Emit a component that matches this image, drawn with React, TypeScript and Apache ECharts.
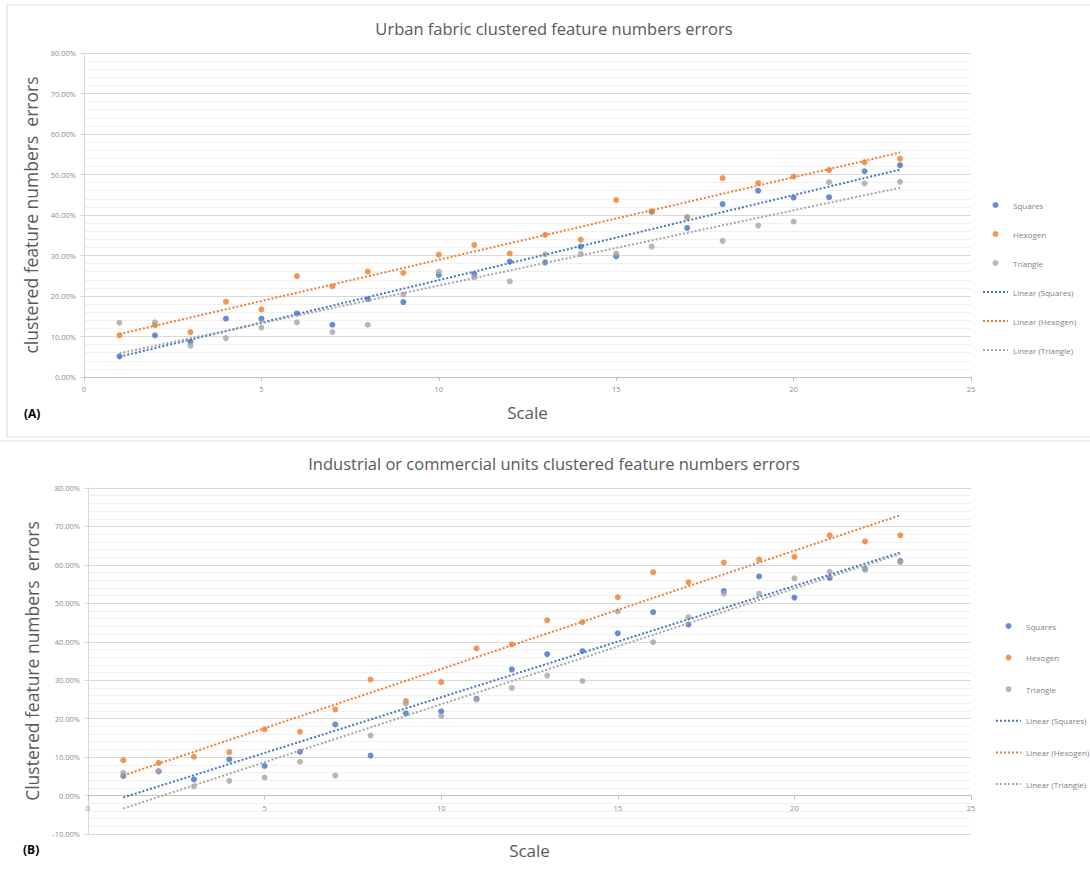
import React, { useEffect, useRef } from "react";
import * as echarts from "echarts";

// Scale steps shared by both panels
const scales = [1, 2, 3, 4, 5, 6, 7, 8, 9, 10, 11, 12, 13, 14, 15, 16, 17, 18, 19, 20, 21, 22, 23];

// (A) Urban fabric errors, in percent
const squaresA = [5.1, 10.3, 8.7, 14.4, 14.4, 15.7, 12.9, 19.2, 18.5, 25.2, 25.4, 28.5, 28.3, 32.2, 29.8, 40.8, 36.8, 42.7, 46.0, 44.3, 44.4, 50.8, 52.3];
const hexogenA = [10.3, 12.8, 11.1, 18.6, 16.7, 24.9, 22.4, 26.0, 25.7, 30.2, 32.6, 30.5, 35.1, 33.9, 43.7, 40.9, 39.5, 49.1, 47.9, 49.5, 51.1, 53.0, 53.9];
const triangleA = [13.4, 13.5, 7.7, 9.6, 12.2, 13.5, 11.1, 12.9, 20.4, 26.0, 24.6, 23.6, 30.3, 30.4, 30.5, 32.2, 39.4, 33.6, 37.4, 38.4, 48.1, 47.8, 48.2];

// (B) Industrial or commercial units errors, in percent
const squaresB = [5.1, 6.3, 4.2, 9.4, 7.7, 11.4, 18.5, 10.4, 21.4, 21.9, 25.2, 32.8, 36.8, 37.6, 42.2, 47.7, 44.5, 53.2, 57.0, 51.5, 56.6, 59.0, 61.0];
const hexogenB = [9.2, 8.5, 10.1, 11.3, 17.2, 16.6, 22.4, 30.2, 24.6, 29.5, 38.3, 39.3, 45.6, 45.1, 51.6, 58.1, 55.5, 60.6, 61.4, 62.1, 67.7, 66.1, 67.7];
const triangleB = [5.9, 6.3, 2.4, 3.8, 4.7, 8.8, 5.2, 15.6, 23.9, 20.7, 25.0, 28.0, 31.2, 29.8, 47.9, 39.9, 46.4, 52.5, 52.5, 56.5, 58.2, 58.7, 60.7];

const seriesNames = ["Squares", "Hexogen", "Triangle"];
const trendNames = ["Linear (Squares)", "Linear (Hexogen)", "Linear (Triangle)"];
const colors = ["#4472C4", "#ED7D31", "#A5A5A5"];

const titleA = "Urban fabric clustered feature numbers errors";
const titleB = "Industrial or commercial units clustered feature numbers errors";
const yNameA = "clustered feature numbers  errors";
const yNameB = "Clustered feature numbers  errors";

// Panel B value range (percent) and plot height; the x axis is lifted to the 0% line
const minB = -10;
const maxB = 80;
const plotHeightB = 346;
const zeroLiftB = (plotHeightB * (0 - minB)) / (maxB - minB);

// Least-squares fit, returned as the two end points of the trendline
function trend(xs: number[], ys: number[]): number[][] {
  const n = xs.length;
  const mx = xs.reduce((a, b) => a + b, 0) / n;
  const my = ys.reduce((a, b) => a + b, 0) / n;
  let sxy = 0;
  let sxx = 0;
  for (let i = 0; i < n; i++) {
    sxy += (xs[i] - mx) * (ys[i] - my);
    sxx += (xs[i] - mx) * (xs[i] - mx);
  }
  const k = sxy / sxx;
  const b = my - k * mx;
  const x0 = xs[0];
  const x1 = xs[n - 1];
  return [
    [x0, x0 * k + b],
    [x1, x1 * k + b],
  ];
}

const FONT = "'Open Sans', sans-serif";

function panelSeries(idx: number, groups: number[][]) {
  const out: any[] = [];
  groups.forEach((vals, i) => {
    out.push({
      type: "scatter",
      name: seriesNames[i],
      xAxisIndex: idx,
      yAxisIndex: idx,
      symbolSize: 6,
      itemStyle: { color: colors[i] },
      data: scales.map((s, j) => [s, vals[j]]),
      z: 3,
    });
  });
  groups.forEach((vals, i) => {
    out.push({
      type: "line",
      name: trendNames[i],
      xAxisIndex: idx,
      yAxisIndex: idx,
      symbol: "none",
      showSymbol: false,
      lineStyle: { type: "dotted", width: 2, color: colors[i] },
      itemStyle: { color: colors[i] },
      data: trend(scales, vals),
      z: 4,
    });
  });
  return out;
}

function xAxisOpt(idx: number, nameGap: number, offset: number) {
  return {
    type: "value",
    gridIndex: idx,
    position: "bottom",
    offset,
    min: 0,
    max: 25,
    interval: 5,
    name: "Scale",
    nameLocation: "middle",
    nameGap,
    nameTextStyle: { fontSize: 17, color: "#595959", fontFamily: FONT },
    axisLine: { show: true, onZero: false, lineStyle: { color: "#bfbfbf" } },
    axisTick: { show: true, length: 4, lineStyle: { color: "#bfbfbf" } },
    axisLabel: { fontSize: 7.5, color: "#8c8c8c", margin: 8, fontFamily: FONT },
    splitLine: { show: false },
  };
}

function yAxisOpt(idx: number, min: number, name: string, nameGap: number) {
  return {
    type: "value",
    gridIndex: idx,
    min,
    max: 80,
    interval: 10,
    name,
    nameLocation: "middle",
    nameGap,
    nameTextStyle: { fontSize: 17.5, color: "#595959", fontFamily: FONT },
    axisLine: { show: true, onZero: false, lineStyle: { color: "#d9d9d9" } },
    axisTick: { show: true, length: 4, lineStyle: { color: "#d9d9d9" } },
    minorTick: { show: false, splitNumber: 5 },
    axisLabel: {
      fontSize: 7.5,
      color: "#8c8c8c",
      margin: 8,
      fontFamily: FONT,
      formatter: (v: number) => v.toFixed(2) + "%",
    },
    splitLine: { show: true, lineStyle: { color: "#d9d9d9", width: 1 } },
    minorSplitLine: { show: true, lineStyle: { color: "#f0f0f0", width: 1 } },
  };
}

function legendOpt(left: number, top: number, itemGap: number) {
  return {
    orient: "vertical",
    left,
    top,
    itemWidth: 25,
    itemHeight: 6,
    itemGap,
    data: [
      ...seriesNames,
      // trendline entries show the dotted line only
      ...trendNames.map((name) => ({ name, itemStyle: { opacity: 0 } })),
    ],
    textStyle: { fontSize: 8, color: "#7f7f7f", fontFamily: FONT },
  };
}

export default function App() {
  const ref = useRef<HTMLDivElement>(null);

  useEffect(() => {
    if (!ref.current) return;
    const chart = echarts.init(ref.current, null, { renderer: "svg" });
    chart.setOption({
      animation: false,
      backgroundColor: "#ffffff",
      grid: [
        { left: 84, top: 53, width: 887, height: 324, outerBoundsMode: "none", containLabel: false },
        { left: 88, top: 488, width: 883, height: plotHeightB, outerBoundsMode: "none", containLabel: false },
      ],
      xAxis: [xAxisOpt(0, 27, 0), xAxisOpt(1, 46, -zeroLiftB)],
      yAxis: [yAxisOpt(0, 0, yNameA, 42), yAxisOpt(1, minB, yNameB, 46)],
      legend: [legendOpt(977, 196, 21), legendOpt(990, 617, 23.6)],
      series: [
        ...panelSeries(0, [squaresA, hexogenA, triangleA]),
        ...panelSeries(1, [squaresB, hexogenB, triangleB]),
      ],
      graphic: [
        {
          type: "rect",
          shape: { x: 7, y: 5, width: 1090, height: 432 },
          style: { fill: "none", stroke: "#d9d9d9", lineWidth: 1 },
          silent: true,
        },
        {
          type: "line",
          shape: { x1: 0, y1: 441, x2: 1090, y2: 441 },
          style: { stroke: "#e3e3e3", lineWidth: 1 },
          silent: true,
        },
        {
          type: "text",
          x: 554,
          y: 28,
          style: {
            text: titleA,
            fontSize: 16.5,
            fontFamily: FONT,
            fill: "#595959",
            textAlign: "center",
            textVerticalAlign: "middle",
          },
        },
        {
          type: "text",
          x: 554,
          y: 463,
          style: {
            text: titleB,
            fontSize: 16.5,
            fontFamily: FONT,
            fill: "#595959",
            textAlign: "center",
            textVerticalAlign: "middle",
          },
        },
        {
          type: "text",
          x: 24,
          y: 413,
          style: {
            text: "(A)",
            fontSize: 12,
            fontWeight: "bold",
            fontFamily: FONT,
            fill: "#000000",
            textVerticalAlign: "middle",
          },
        },
        {
          type: "text",
          x: 23,
          y: 849,
          style: {
            text: "(B)",
            fontSize: 12,
            fontWeight: "bold",
            fontFamily: FONT,
            fill: "#000000",
            textVerticalAlign: "middle",
          },
        },
      ],
    });
    return () => chart.dispose();
  }, []);

  return (
    <div
      ref={ref}
      style={{ position: "fixed", left: 0, top: 0, width: 1090, height: 875, background: "#fff" }}
    />
  );
}
